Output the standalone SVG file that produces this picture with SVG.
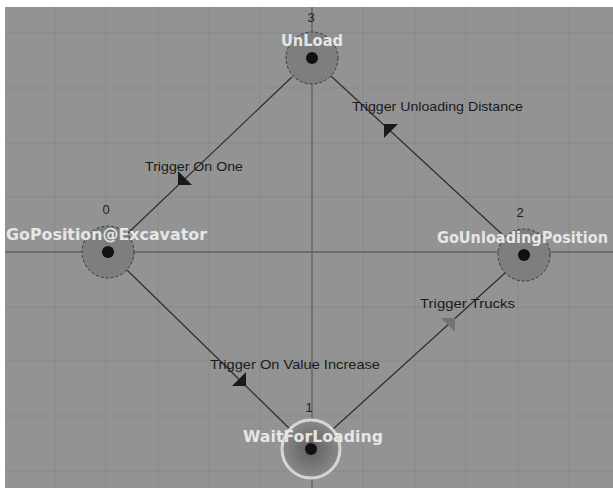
<svg xmlns="http://www.w3.org/2000/svg" width="613" height="488" viewBox="0 0 613 488">
<defs>
<style>
.grid{stroke:#898989;stroke-width:1;fill:none}
.axis{stroke:#606060;stroke-width:1.3;fill:none}
.edge{stroke:#2e2e2e;stroke-width:1.2;fill:none}
.ring{fill:#7e7e7e;stroke:#3a3a3a;stroke-width:1;stroke-dasharray:3 2}
.dot{fill:#111}
.name{font-family:"DejaVu Sans",Verdana,sans-serif;font-weight:bold;font-size:15px;fill:#e6e6e6;text-anchor:start}
.num{font-family:"Liberation Sans",Arial,sans-serif;font-size:13px;fill:#1e1e1e;text-anchor:middle}
.lbl{font-family:"Liberation Sans",Arial,sans-serif;font-size:13.5px;fill:#1a1a1a}
.head{fill:#1a1a1a}
</style>
<radialGradient id="wg" cx="0.5" cy="0.5" r="0.5">
<stop offset="0" stop-color="#5e5e5e"/>
<stop offset="1" stop-color="#8a8a8a"/>
</radialGradient>
</defs>
<rect x="0" y="0" width="613" height="488" fill="#ffffff"/>
<rect x="5" y="7" width="608" height="481" fill="#939393"/>
<g id="grid">
<path class="grid" d="M55 7V488M106 7V488M158 7V488M209 7V488M260 7V488M363 7V488M415 7V488M466 7V488M518 7V488M569 7V488"/>
<path class="grid" d="M5 33H613M5 88H613M5 143H613M5 197H613M5 307H613M5 361H613M5 416H613M5 471H613"/>
<path class="axis" d="M312 7V488M5 252H613"/>
</g>
<g id="connectors">
<g id="e3to0">
<line class="edge" x1="292" y1="77" x2="128" y2="233"/>
<polygon class="head" points="178,185 178,171 192,185"/>
<text class="lbl" x="145" y="171" textLength="98" lengthAdjust="spacingAndGlyphs">Trigger On One</text>
</g>
<g id="e2to3">
<line class="edge" x1="505" y1="237" x2="331" y2="76"/>
<polygon class="head" points="384,124 384,138 398,124"/>
<text class="lbl" x="352" y="111" textLength="171" lengthAdjust="spacingAndGlyphs">Trigger Unloading Distance</text>
</g>
<g id="e0to1">
<line class="edge" x1="127" y1="270" x2="291" y2="430"/>
<polygon class="head" points="246,386 232,386 246,372"/>
<text class="lbl" x="210" y="369" textLength="170" lengthAdjust="spacingAndGlyphs">Trigger On Value Increase</text>
</g>
<g id="e1to2">
<line class="edge" x1="332" y1="430" x2="505" y2="273"/>
<polygon points="455,318 441,318 455,332" fill="#727272"/>
<text class="lbl" x="420" y="308" textLength="95" lengthAdjust="spacingAndGlyphs">Trigger Trucks</text>
</g>
</g>
<g id="node3">
<circle class="ring" cx="312" cy="58" r="26"/>
<circle class="dot" cx="312" cy="58" r="6"/>
<text class="num" x="311" y="22">3</text>
<text class="name" x="281" y="46" textLength="62" lengthAdjust="spacingAndGlyphs">UnLoad</text>
</g>
<g id="node0">
<circle class="ring" cx="108" cy="252" r="26"/>
<circle class="dot" cx="108" cy="252" r="6"/>
<text class="num" x="106" y="214">0</text>
<text class="name" x="6" y="240" textLength="201" lengthAdjust="spacingAndGlyphs">GoPosition@Excavator</text>
</g>
<g id="node2">
<circle class="ring" cx="524" cy="255" r="26"/>
<circle class="dot" cx="524" cy="255" r="6"/>
<text class="num" x="520" y="217">2</text>
<text class="name" x="437" y="243" textLength="171" lengthAdjust="spacingAndGlyphs">GoUnloadingPosition</text>
</g>
<g id="node1">
<circle cx="311" cy="449" r="29" fill="url(#wg)" stroke="#d6d6d6" stroke-width="3"/>
<circle class="dot" cx="311" cy="449" r="6"/>
<text class="num" x="309" y="412">1</text>
<text class="name" x="243" y="442" textLength="140" lengthAdjust="spacingAndGlyphs">WaitForLoading</text>
</g>
</svg>
